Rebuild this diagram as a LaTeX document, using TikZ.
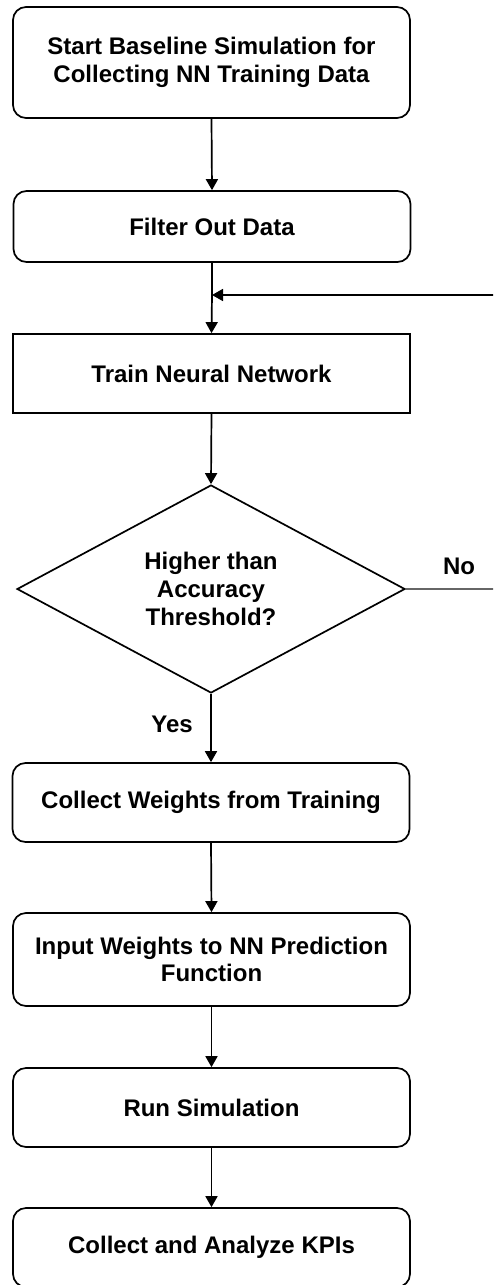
\documentclass[tikz,border=0pt]{standalone}
\usepackage{fontspec}
\setmainfont{Liberation Sans}
\usetikzlibrary{shapes.geometric,arrows.meta}
\tikzset{
  every node/.style={font=\fontsize{24}{27.6}\selectfont\bfseries, align=center},
  stepbox/.style={draw=black, line width=1.7pt, rounded corners=13pt, minimum width=397pt, inner sep=0pt},
  plainbox/.style={draw=black, line width=1.7pt, minimum width=397pt, inner sep=0pt},
  decide/.style={draw=black, line width=1.7pt, diamond, minimum width=388pt, minimum height=208pt, inner sep=0pt},
  flow/.style={draw=black, line width=1.7pt, -{Triangle[length=11pt,width=12pt]}},
  thinline/.style={draw=black!60, line width=1.1pt},
  lbl/.style={inner sep=0pt}
}
\begin{document}
\begin{tikzpicture}[x=1pt,y=-1pt]
\useasboundingbox (0,0) rectangle (493,1285);
\clip (0,0) rectangle (493,1285);
\node[stepbox, minimum height=111pt] (b1) at (211.5,62.5) {Start Baseline Simulation for\\Collecting NN Training Data};
\node[stepbox, minimum height=71pt] (b2) at (212,226.5) {Filter Out Data};
\node[plainbox, minimum height=79pt] (b3) at (211.5,373.5) {Train Neural Network};
\node[decide] (d) at (211,589) {Higher than\\Accuracy\\Threshold?};
\node[stepbox, minimum height=79pt] (b4) at (211,802.5) {Collect Weights from Training};
\node[stepbox, minimum height=93pt] (b5) at (211.5,959.5) {Input Weights to NN Prediction\\Function};
\node[stepbox, minimum height=79pt] (b6) at (211.5,1107.5) {Run Simulation};
\node[stepbox, minimum height=79pt] (b7) at (211.5,1247.5) {Collect and Analyze KPIs};
\node[lbl] (no) at (459,566) {No};
\node[lbl] (yes) at (172,724) {Yes};
\coordinate (join) at (b2.south |- 0,295);
\coordinate (fb) at (510,295);
\coordinate (noend) at (510,589);
\draw[flow] (b1.south) -- (b2.north);
\draw[line width=1.7pt] (b2.south) -- (join);
\draw[flow] (join) -- (b3.north);
\draw[flow] (fb) -- (join);
\draw[flow] (b3.south) -- (d.north);
\draw[thinline] (d.east) -- (noend);
\draw[flow] (d.south) -- (b4.north);
\draw[flow] (b4.south) -- (b5.north);
\draw[flow] (b5.south) -- (b6.north);
\draw[flow] (b6.south) -- (b7.north);
\end{tikzpicture}
\end{document}
